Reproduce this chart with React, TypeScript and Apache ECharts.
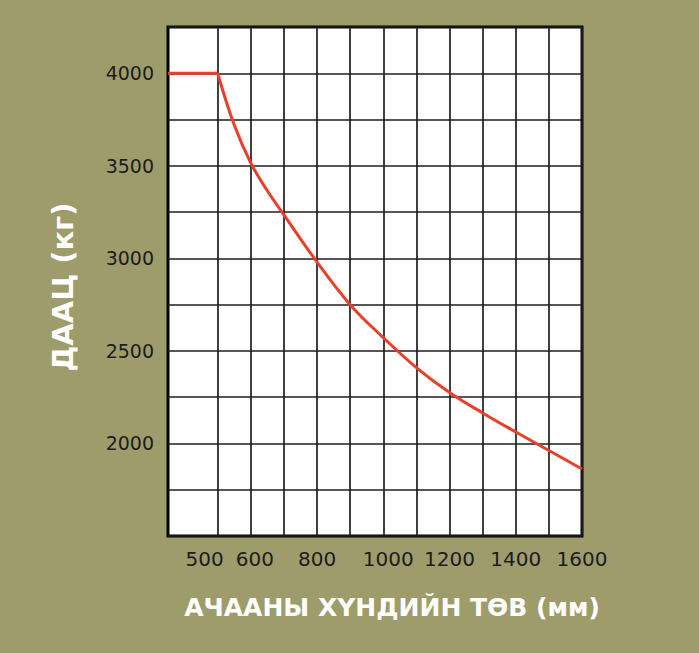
import React, { useEffect, useRef } from "react";
import * as echarts from "echarts";

const xGridValues = [500, 600, 700, 800, 900, 1000, 1100, 1200, 1300, 1400, 1500, 1600];
const xTickLabels = [500, 600, 800, 1000, 1200, 1400, 1600];
const yTickLabels = [2000, 2500, 3000, 3500, 4000];
const flatX = [350, 500];
const flatY = [4000, 4000];
const curveX = [500, 550, 600, 650, 700, 800, 900, 1000, 1100, 1200, 1300, 1400, 1500, 1600];
const curveY = [4000, 3720, 3515, 3365, 3235, 2980, 2750, 2572, 2410, 2275, 2165, 2062, 1962, 1862];
const xTitle = "АЧААНЫ ХҮНДИЙН ТӨВ (мм)";
const yTitle = "ДААЦ (кг)";

const FONT = "'DejaVu Sans', 'Liberation Sans', Arial, sans-serif";
const LABEL_COLOR = "#1c1c1c";

export default function App() {
  const ref = useRef<HTMLDivElement>(null);
  useEffect(() => {
    if (!ref.current) return;
    const chart = echarts.init(ref.current, null, { renderer: "svg" });
    const xBase = { fontSize: 20, fontFamily: FONT, color: LABEL_COLOR };
    const yBase = { fontSize: 19, fontFamily: FONT, color: LABEL_COLOR };
    chart.setOption({
      animation: false,
      backgroundColor: "#9f9c6b",
      grid: {
        left: 168,
        right: 117,
        top: 27,
        bottom: 117,
        show: true,
        backgroundColor: "#ffffff",
        borderColor: "#000000",
        borderWidth: 3,
        z: 0,
      },
      xAxis: {
        type: "value",
        min: 350,
        max: 1600,
        axisLine: { show: false },
        axisTick: { show: false, customValues: xGridValues },
        splitLine: { show: true, lineStyle: { color: "#1e1e1e", width: 1.7 } },
        axisLabel: {
          customValues: xTickLabels,
          margin: 13,
          ...xBase,
          formatter: (v: number) => {
            if (v === 500) return `{a|${v}}`;
            if (v === 600) return `{b|${v}}`;
            if (v === 1000) return `{c|${v}}`;
            return `{n|${v}}`;
          },
          rich: {
            a: { ...xBase, padding: [0, 26, 0, 0] },
            b: { ...xBase, padding: [0, 0, 0, 8] },
            c: { ...xBase, padding: [0, 0, 0, 10] },
            n: { ...xBase },
          },
        },
      },
      yAxis: {
        type: "value",
        min: 1500,
        max: 4250,
        interval: 250,
        axisLine: { show: false },
        axisTick: { show: false },
        splitLine: { show: true, lineStyle: { color: "#1e1e1e", width: 1.7 } },
        axisLabel: {
          customValues: yTickLabels,
          margin: 14,
          formatter: (v: number) => String(v),
          ...yBase,
        },
      },
      graphic: [
        {
          type: "text",
          x: 392,
          y: 607,
          style: {
            text: xTitle,
            fill: "#ffffff",
            font: `bold 25px ${FONT}`,
            textAlign: "center",
            textVerticalAlign: "middle",
          },
        },
        {
          type: "text",
          x: 63,
          y: 287,
          rotation: Math.PI / 2,
          style: {
            text: yTitle,
            fill: "#ffffff",
            font: `bold 29px ${FONT}`,
            textAlign: "center",
            textVerticalAlign: "middle",
          },
        },
      ],
      series: [
        {
          type: "line",
          data: flatX.map((x, i) => [x, flatY[i]]),
          showSymbol: false,
          lineStyle: { color: "#e8402b", width: 3 },
          z: 5,
        },
        {
          type: "line",
          data: curveX.map((x, i) => [x, curveY[i]]),
          showSymbol: false,
          smooth: 0.4,
          lineStyle: { color: "#e8402b", width: 3 },
          z: 5,
        },
      ],
    });
    return () => chart.dispose();
  }, []);
  return (
    <div
      ref={ref}
      style={{
        position: "absolute",
        left: 0,
        top: 0,
        width: 699,
        height: 653,
      }}
    />
  );
}
